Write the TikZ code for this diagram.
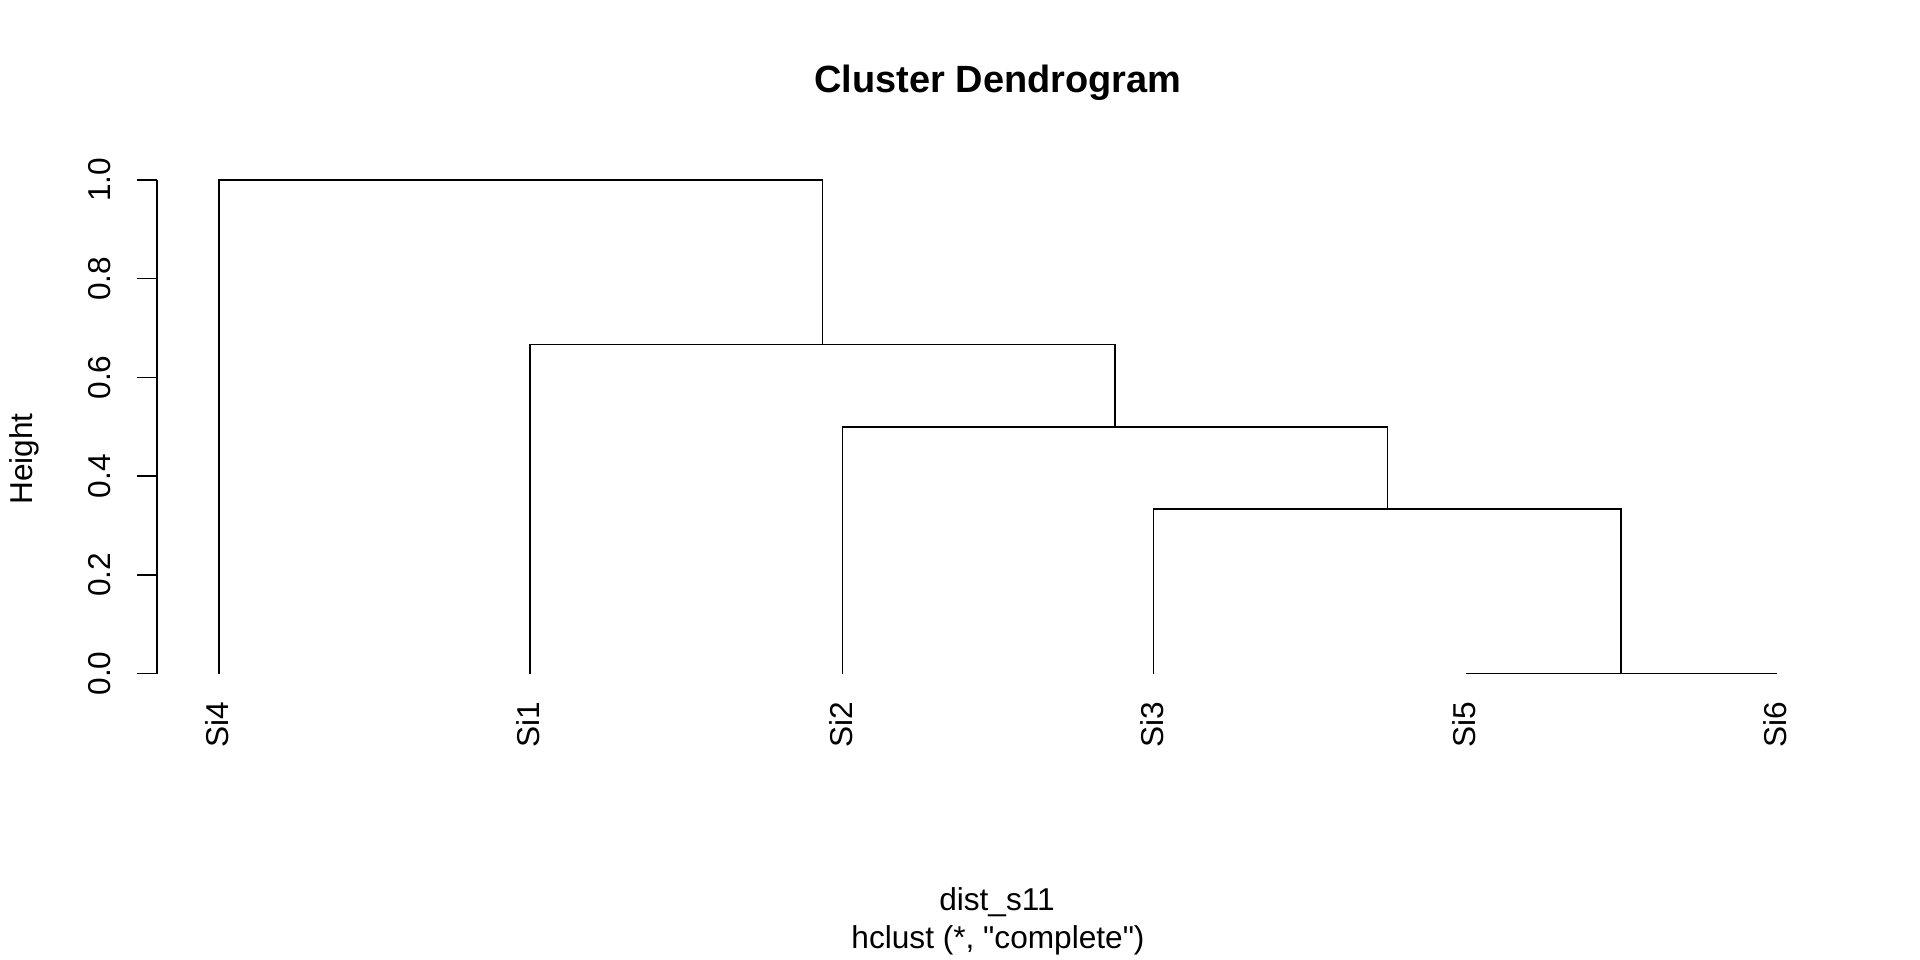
\documentclass[tikz,border=0pt]{standalone}
\usepackage{fontspec}
\setmainfont{Liberation Sans}[Ligatures=TeXOff]
\usepackage{tikz}

\begin{document}
\begin{tikzpicture}[x=0.02cm, y=-0.02cm, line width=0.85pt,
    lbl/.style={inner sep=0pt, font=\fontsize{18}{22}\selectfont},
    leaf/.style={lbl, rotate=90, anchor=east}]
        \useasboundingbox (0,0) rectangle (1920,960);
        \node (title) [lbl, font=\fontsize{21.6}{26}\selectfont\bfseries] at (998,83) {Cluster Dendrogram};
        \node (ylab) [lbl, rotate=90] at (24.5,459) {Height};
        \node (xlab) [lbl] at (997,902) {dist\_s11};
        \node (sub) [lbl] at (998,940) {hclust (*, "complete")};
        \coordinate (axtop) at (157,180);
        \coordinate (axbot) at (157,673.5);
        \draw (axtop) -- (axbot);
        \foreach \h [count=\i] in {0.0,0.2,0.4,0.6,0.8,1.0} {
            \coordinate (tick\i) at (157,673.5-493.5*\h);
            \draw (tick\i) -- ++(-20,0);
            \node (ticklbl\i) [lbl, rotate=90] at (100,673.5-493.5*\h) {\h};
        }
        \coordinate (Si4) at (219.2,673.5);
        \coordinate (Si1) at (530.2,673.5);
        \coordinate (Si2) at (842.5,673.5);
        \coordinate (Si3) at (1153.5,673.5);
        \coordinate (Si5) at (1465.7,673.5);
        \coordinate (Si6) at (1776.7,673.5);
        \coordinate (m56) at (1621.2,673.5);
        \coordinate (m356) at (1387.35,509);
        \coordinate (m2356) at (1114.9,426.75);
        \coordinate (m12356) at (822.6,344.5);
        \coordinate (root) at (520.9,180);
        \foreach \s in {Si4,Si1,Si2,Si3,Si5,Si6}
            \node (lbl\s) [leaf] at ([xshift=-1]\s |- 0,701) {\s};
        \draw (Si5) |- (m56) -| (Si6);
        \draw (Si3) |- (m356) -| (m56);
        \draw (Si2) |- (m2356) -| (m356);
        \draw (Si1) |- (m12356) -| (m2356);
        \draw (Si4) |- (root) -| (m12356);
    \end{tikzpicture}
\end{document}
